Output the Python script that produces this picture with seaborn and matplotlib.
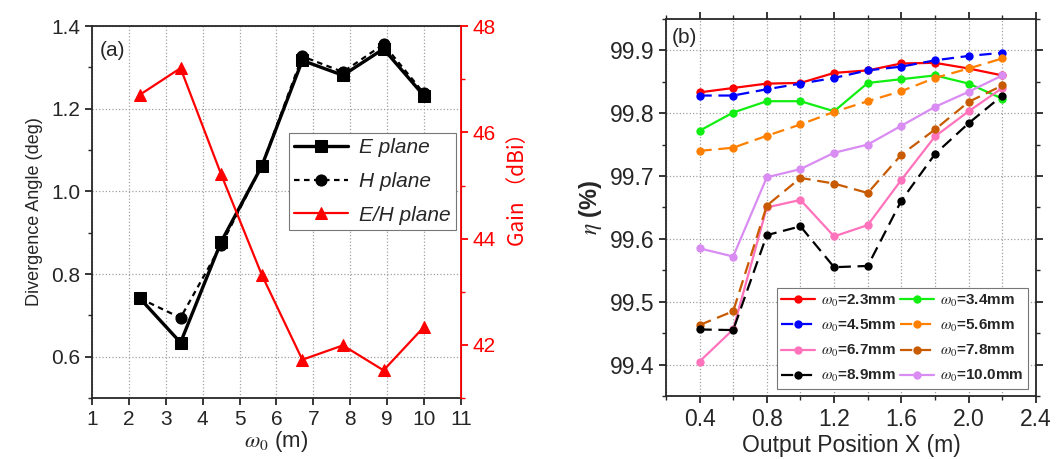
import numpy as np
import pandas as pd
import matplotlib
matplotlib.use("Agg")
import matplotlib.pyplot as plt
from matplotlib.ticker import MultipleLocator
import seaborn as sns

# ---- panel (a) data ----
w0 = [2.3, 3.4, 4.5, 5.6, 6.7, 7.8, 8.9, 10.0]
e_plane = [0.741, 0.634, 0.878, 1.061, 1.317, 1.281, 1.345, 1.231]
h_plane = [0.741, 0.694, 0.870, 1.061, 1.327, 1.289, 1.356, 1.237]
gain = [46.71, 47.21, 45.21, 43.32, 41.72, 41.99, 41.52, 42.34]

# ---- panel (b) data ----
pos_x = [0.4, 0.6, 0.8, 1.0, 1.2, 1.4, 1.6, 1.8, 2.0, 2.2]
series_names = ["2.3", "3.4", "4.5", "5.6", "6.7", "7.8", "8.9", "10.0"]
eta = {
    "2.3": [99.833, 99.840, 99.847, 99.848, 99.864, 99.868, 99.879, 99.880, 99.871, 99.860],
    "3.4": [99.772, 99.801, 99.819, 99.819, 99.803, 99.848, 99.854, 99.860, 99.847, 99.823],
    "4.5": [99.828, 99.828, 99.838, 99.847, 99.856, 99.868, 99.874, 99.884, 99.891, 99.896],
    "5.6": [99.740, 99.745, 99.764, 99.782, 99.802, 99.819, 99.835, 99.856, 99.871, 99.887],
    "6.7": [99.405, 99.456, 99.650, 99.662, 99.604, 99.622, 99.694, 99.763, 99.803, 99.840],
    "7.8": [99.463, 99.485, 99.653, 99.697, 99.688, 99.673, 99.734, 99.774, 99.818, 99.844],
    "8.9": [99.456, 99.455, 99.606, 99.620, 99.555, 99.557, 99.661, 99.735, 99.784, 99.828],
    "10.0": [99.585, 99.572, 99.698, 99.711, 99.737, 99.750, 99.780, 99.810, 99.834, 99.860],
}
colors = {"2.3": "#ff0000", "3.4": "#11ee11", "4.5": "#0000ff", "5.6": "#ff8000",
          "6.7": "#ff72bc", "7.8": "#c85a00", "8.9": "#000000", "10.0": "#d98cf2"}
styles = {"2.3": "-", "3.4": "-", "4.5": "--", "5.6": "--",
          "6.7": "-", "7.8": "--", "8.9": "--", "10.0": "-"}

sns.set_style("ticks")
plt.rcParams["font.family"] = ["Liberation Sans", "Noto Sans CJK SC"]
plt.rcParams["mathtext.fontset"] = "stix"
plt.rcParams["xtick.direction"] = "out"
plt.rcParams["ytick.direction"] = "out"

fig = plt.figure(figsize=(10.62, 4.59), dpi=100)
ax1 = fig.add_axes([0.0866, 0.133, 0.3475, 0.810])
ax2 = fig.add_axes([0.627, 0.137, 0.3485, 0.822])

FS_A = 15
FS_B = 16.5
grid_kw = dict(color="#a0a0a0", linestyle=":", linewidth=0.9)

# ---------------- panel (a) ----------------
df_a = pd.DataFrame({"w0": w0, "E": e_plane, "H": h_plane, "G": gain})
sns.lineplot(data=df_a, x="w0", y="E", ax=ax1, color="black", linewidth=2.4,
             marker="s", markersize=8.5, markeredgecolor="black", label="E plane")
sns.lineplot(data=df_a, x="w0", y="H", ax=ax1, color="black", linewidth=1.6,
             linestyle=(0, (2.5, 2)), marker="o", markersize=8,
             markeredgecolor="black", label="H plane")
ax1b = ax1.twinx()
sns.lineplot(data=df_a, x="w0", y="G", ax=ax1b, color="#ff0000", linewidth=1.6,
             marker="^", markersize=8.5, markeredgecolor="#ff0000", label="E/H plane")

ax1.set_xlim(1, 11)
ax1.set_ylim(0.5, 1.4)
ax1.xaxis.set_major_locator(MultipleLocator(1))
ax1.yaxis.set_minor_locator(MultipleLocator(0.1))
ax1.set_yticks([0.6, 0.8, 1.0, 1.2, 1.4])
ax1b.set_ylim(41, 48)
ax1b.yaxis.set_minor_locator(MultipleLocator(1))
ax1b.set_yticks([42, 44, 46, 48])
ax1.grid(True, **grid_kw)
ax1.set_axisbelow(True)

ax1.set_xlabel(r"$\omega_0$ (m)", fontsize=16, labelpad=0)
ax1.set_ylabel("Divergence Angle (deg)", fontsize=13, labelpad=6)
ax1b.set_ylabel("Gain （dBi）", fontsize=15, color="#ff0000",
                family=["Noto Sans CJK SC"])
ax1b.yaxis.set_label_coords(1.125, 0.575)
ax1.tick_params(labelsize=FS_A, width=1.3, length=5)
ax1.tick_params(which="minor", width=1.0, length=3)
ax1b.tick_params(axis="y", labelsize=FS_A, colors="#ff0000", width=1.3, length=5)
ax1b.tick_params(which="minor", colors="#ff0000", width=1.0, length=3)
for s in ["left", "bottom", "top"]:
    ax1.spines[s].set_linewidth(1.3)
ax1b.spines["right"].set_color("#ff0000")
ax1b.spines["right"].set_linewidth(1.3)
for s in ["left", "bottom", "top"]:
    ax1b.spines[s].set_visible(False)
ax1.text(0.02, 0.96, "(a)", transform=ax1.transAxes, fontsize=FS_A, va="top")

h1, l1 = ax1.get_legend_handles_labels()
h2, l2 = ax1b.get_legend_handles_labels()
ax1.get_legend().remove()
ax1b.get_legend().remove()
leg_a = ax1b.legend(h1 + h2, l1 + l2, loc="upper left", bbox_to_anchor=(0.534, 0.712),
                    prop={"size": FS_A, "style": "italic"}, handlelength=2.6,
                    handletextpad=0.5, fancybox=False, framealpha=1,
                    edgecolor="#777777", borderpad=0.25, labelspacing=0.7,
                    borderaxespad=0)
leg_a.get_frame().set_linewidth(0.8)

# ---------------- panel (b) ----------------
rows = []
for name in series_names:
    for xv, yv in zip(pos_x, eta[name]):
        rows.append({"x": xv, "eta": yv, "w0": name})
df_b = pd.DataFrame(rows)

handles = {}
for name in series_names:
    sub = df_b[df_b["w0"] == name]
    sns.lineplot(data=sub, x="x", y="eta", ax=ax2, color=colors[name], linewidth=1.6,
                 linestyle=styles[name], marker="o", markersize=6, markeredgewidth=0,
                 label=r"$\omega_0$=" + name + "mm")
    handles[name] = ax2.get_lines()[-1]
for ln in ax2.get_lines():
    if ln.get_linestyle() == "--":
        ln.set_dashes((5.5, 3.0))

ax2.set_xlim(0.2, 2.4)
ax2.set_ylim(99.35, 99.95)
ax2.xaxis.set_minor_locator(MultipleLocator(0.2))
ax2.yaxis.set_major_locator(MultipleLocator(0.1))
ax2.yaxis.set_minor_locator(MultipleLocator(0.05))
ax2.set_xticks([0.4, 0.8, 1.2, 1.6, 2.0, 2.4])
ax2.grid(True, which="major", axis="y", **grid_kw)
ax2.grid(True, which="both", axis="x", **grid_kw)
ax2.set_axisbelow(True)
ax2.tick_params(which="both", top=True, right=True, labelsize=FS_B)
ax2.tick_params(which="major", width=1.3, length=5)
ax2.tick_params(which="minor", width=1.0, length=3)
for s in ax2.spines.values():
    s.set_linewidth(1.3)
ax2.set_xlabel("Output Position X (m)", fontsize=FS_B, labelpad=2)
ax2.set_ylabel(r"$\eta$ (%)", fontsize=17, fontweight="bold", labelpad=4)
ax2.text(0.015, 0.975, "(b)", transform=ax2.transAxes, fontsize=FS_A, va="top")

ax2.get_legend().remove()
order = ["2.3", "4.5", "6.7", "8.9", "3.4", "5.6", "7.8", "10.0"]
leg_b = ax2.legend([handles[n] for n in order],
                   [r"$\omega_0$=" + n + "mm" for n in order],
                   ncol=2, loc="lower right", bbox_to_anchor=(0.978, 0.019),
                   prop={"size": 11, "weight": "bold"}, handlelength=2.2,
                   columnspacing=0.3, handletextpad=0.4, labelspacing=0.6,
                   fancybox=False, framealpha=1, edgecolor="#777777", borderpad=0.3,
                   borderaxespad=0)
leg_b.get_frame().set_linewidth(0.8)

fig.savefig("out.png", dpi=100)
